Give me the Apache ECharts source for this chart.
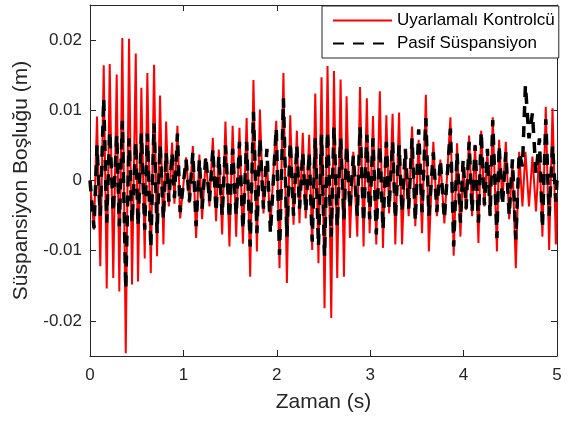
<!DOCTYPE html>
<html>
<head>
<meta charset="utf-8">
<script src="https://cdn.jsdelivr.net/npm/echarts@6/dist/echarts.min.js"></script>
<style>
html,body{margin:0;padding:0;background:#fff;}
#c{width:569px;height:421px;}
</style>
</head>
<body>
<div id="c"></div>
<script>
// time stamps of the oscillation turning points (s)
var time = [0,.043,.075,.110,.147,.179,.211,.249,.286,.314,.346,.383,.418,.450,.490,.514,.550,.586,.614,.651,.686,.718,
.750,.786,.815,.844,.879,.904,.936,.965,1.029,1.064,1.101,1.136,1.171,1.200,1.240,1.279,1.315,1.350,1.379,1.415,1.450,
1.493,1.527,1.565,1.600,1.637,1.677,1.715,1.750,1.787,1.819,1.857,1.894,1.932,1.994,2.029,2.071,2.108,2.144,2.179,
2.215,2.243,2.278,2.310,2.347,2.379,2.412,2.446,2.479,2.511,2.543,2.583,2.612,2.647,2.683,2.719,2.747,2.783,2.819,2.862,2.891,
2.929,2.964,2.994,3.030,3.065,3.103,3.137,3.173,3.202,3.240,3.269,3.309,3.341,3.376,3.412,3.448,3.483,3.519,3.555,3.596,3.628,
3.676,3.714,3.751,3.794,3.859,3.894,3.930,3.966,3.995,4.027,4.059,4.091,4.123,4.159,4.188,4.223,4.255,4.284,4.312,4.357,
4.380,4.416,4.452,4.488,4.523,4.559,4.595,4.630,4.662,4.700,4.737,4.775,4.812,4.844,4.880,4.916,4.952,4.988,5.0];

// Uyarlamalı Kontrolcü (m)
var adaptive = [0,-0.0070,0.0091,-0.0122,0.0164,-0.0154,0.0166,-0.0139,0.0151,-0.0158,0.0203,-0.0246,0.0202,-0.0148,0.0181,-0.0144,0.0132,-0.0111,0.0153,-0.0132,0.0165,-0.0108,
0.0121,-0.0091,0.0084,-0.0037,0.0054,-0.0033,0.0078,-0.0054,0.0033,-0.0032,0.0049,-0.0082,0.0037,-0.0055,0.0032,-0.0037,0.0061,-0.0058,0.0044,-0.0077,0.0084,
-0.0094,0.0078,-0.0080,0.0075,-0.0090,0.0089,-0.0137,0.0143,-0.0101,0.0101,-0.0047,0.0027,-0.0065,0.0085,-0.0125,0.0153,-0.0146,0.0093,-0.0063,
0.0071,-0.0061,0.0068,-0.0054,0.0065,-0.0099,0.0124,-0.0118,0.0147,-0.0182,0.0163,-0.0196,0.0156,-0.0139,0.0144,-0.0137,0.0120,-0.0082,0.0041,-0.0080,0.0133,
-0.0094,0.0117,-0.0075,0.0092,-0.0091,0.0127,-0.0096,0.0093,-0.0047,0.0095,-0.0091,0.0097,-0.0091,0.0038,-0.0051,0.0077,-0.0065,0.0058,-0.0075,0.0122,-0.0101,
0.0055,-0.0051,0.0030,-0.0061,0.0090,-0.0107,0.0053,-0.0080,0.0020,-0.0042,0.0064,-0.0051,0.0051,-0.0089,0.0071,-0.0037,0.0041,-0.0051,0.0090,-0.0101,
0.0058,-0.0030,0.0055,-0.0055,0.0027,-0.0125,0.0041,-0.0037,0.0041,-0.0037,0.0034,-0.0044,0.0041,-0.0080,0.0105,-0.0099,0.0103,-0.0091,-0.0020];

// Pasif Süspansiyon (m)
var passive = [0,-0.0068,0.0050,-0.0050,0.0117,-0.0060,0.0070,-0.0045,0.0065,-0.0065,0.0085,-0.0155,0.0060,-0.0060,0.0055,-0.0065,0.0067,-0.0070,0.0067,-0.0096,0.0081,-0.0075,
0.0050,-0.0055,0.0040,-0.0030,0.0040,-0.0025,0.0067,-0.0045,0.0030,-0.0030,0.0040,-0.0065,0.0030,-0.0040,0.0035,-0.0030,0.0045,-0.0045,0.0035,-0.0050,0.0050,
-0.0055,0.0045,-0.0050,0.0055,-0.0070,0.0055,-0.0094,0.0098,-0.0075,0.0060,-0.0040,0.0045,-0.0075,0.0075,-0.0106,0.0117,-0.0080,0.0055,-0.0050,
0.0050,-0.0040,0.0040,-0.0045,0.0040,-0.0087,0.0060,-0.0094,0.0065,-0.0108,0.0070,-0.0080,0.0077,-0.0065,0.0060,-0.0055,0.0050,-0.0040,0.0035,-0.0050,0.0077,
-0.0060,0.0065,-0.0055,0.0060,-0.0077,0.0050,-0.0070,0.0055,-0.0040,0.0055,-0.0055,0.0050,-0.0045,0.0045,-0.0040,0.0060,-0.0058,0.0073,-0.0045,0.0089,-0.0050,
0.0040,-0.0045,0.0030,-0.0055,0.0074,-0.0094,0.0040,-0.0060,0.0030,-0.0040,0.0055,-0.0045,0.0050,-0.0060,0.0070,-0.0035,0.0045,-0.0050,0.0086,-0.0082,
0.0050,-0.0035,0.0040,-0.0050,0.0030,-0.0084,0.0040,0.0020,0.0136,0.0060,0.0096,0.0010,0.0060,-0.0068,0.0087,-0.0050,0.0050,-0.0030,0.0000];

var xTicks = [0,1,2,3,4,5];
var yTicks = [-0.02,-0.01,0,0.01,0.02];
var yTickLabels = ['-0.02','-0.01','0','0.01','0.02'];
var seriesNames = ['Uyarlamalı Kontrolcü','Pasif Süspansiyon'];

function pairs(vals){ return time.map(function(t,i){ return [t, vals[i]]; }); }

var FONT = 'Liberation Sans';
var AX = '#262626';
var chart = echarts.init(document.getElementById('c'), null, {renderer:'canvas'});

function tickStyle(extra){
  var o = {show:true, inside:true, length:6, lineStyle:{color:AX, width:1}};
  if (extra) for (var k in extra) o[k] = extra[k];
  return o;
}
var axLine = {show:true, onZero:false, lineStyle:{color:AX, width:1}};

chart.setOption({
  animation:false,
  backgroundColor:'#fff',
  grid:{left:90, top:5, right:12, bottom:65, containLabel:false},
  legend:{
    left:322, top:6, orient:'vertical',
    backgroundColor:'#fff', borderColor:AX, borderWidth:1,
    padding:[6,4,6,10], itemGap:6, itemWidth:59, itemHeight:14,
    itemStyle:{color:'rgba(0,0,0,0)', borderWidth:0, opacity:0},
    textStyle:{fontFamily:FONT, fontSize:17, color:'#000', lineHeight:17},
    data:seriesNames
  },
  xAxis:[{
    type:'value', min:0, max:5, interval:1,
    name:'Zaman (s)', nameLocation:'middle', nameGap:36,
    nameTextStyle:{fontFamily:FONT, fontSize:21, color:AX},
    axisLine:axLine,
    axisTick:tickStyle(),
    axisLabel:{fontFamily:FONT, fontSize:17, color:AX, margin:11,
      formatter:function(v){ return String(xTicks[xTicks.indexOf(v)]); }},
    splitLine:{show:false}
  },{
    type:'value', min:0, max:5, interval:1, position:'top',
    axisLine:axLine,
    axisTick:tickStyle(), axisLabel:{show:false}, splitLine:{show:false}
  }],
  yAxis:[{
    type:'value', min:-0.025, max:0.025,
    name:'Süspansiyon Boşluğu (m)', nameLocation:'middle', nameGap:58,
    nameTextStyle:{fontFamily:FONT, fontSize:21, color:AX},
    axisLine:axLine,
    axisTick:tickStyle({customValues:yTicks}),
    axisLabel:{fontFamily:FONT, fontSize:17, color:AX, margin:8, customValues:yTicks,
      formatter:function(v){ var i=-1; for(var k=0;k<yTicks.length;k++){ if(Math.abs(yTicks[k]-v)<1e-9) i=k; } return i>=0?yTickLabels[i]:''; }},
    splitLine:{show:false}
  },{
    type:'value', min:-0.025, max:0.025, position:'right',
    axisLine:axLine,
    axisTick:tickStyle({customValues:yTicks}),
    axisLabel:{show:false}, splitLine:{show:false}
  }],
  series:[{
    name:seriesNames[0], type:'line', symbol:'none', showSymbol:false,
    xAxisIndex:0, yAxisIndex:0,
    lineStyle:{color:'#ff0000', width:2}, itemStyle:{color:'#ff0000'},
    data:pairs(adaptive)
  },{
    name:seriesNames[1], type:'line', symbol:'none', showSymbol:false,
    xAxisIndex:0, yAxisIndex:0,
    lineStyle:{color:'#000000', width:3.5, type:[11,9]}, itemStyle:{color:'#000000'},
    data:pairs(passive)
  }]
});
</script>
</body>
</html>
